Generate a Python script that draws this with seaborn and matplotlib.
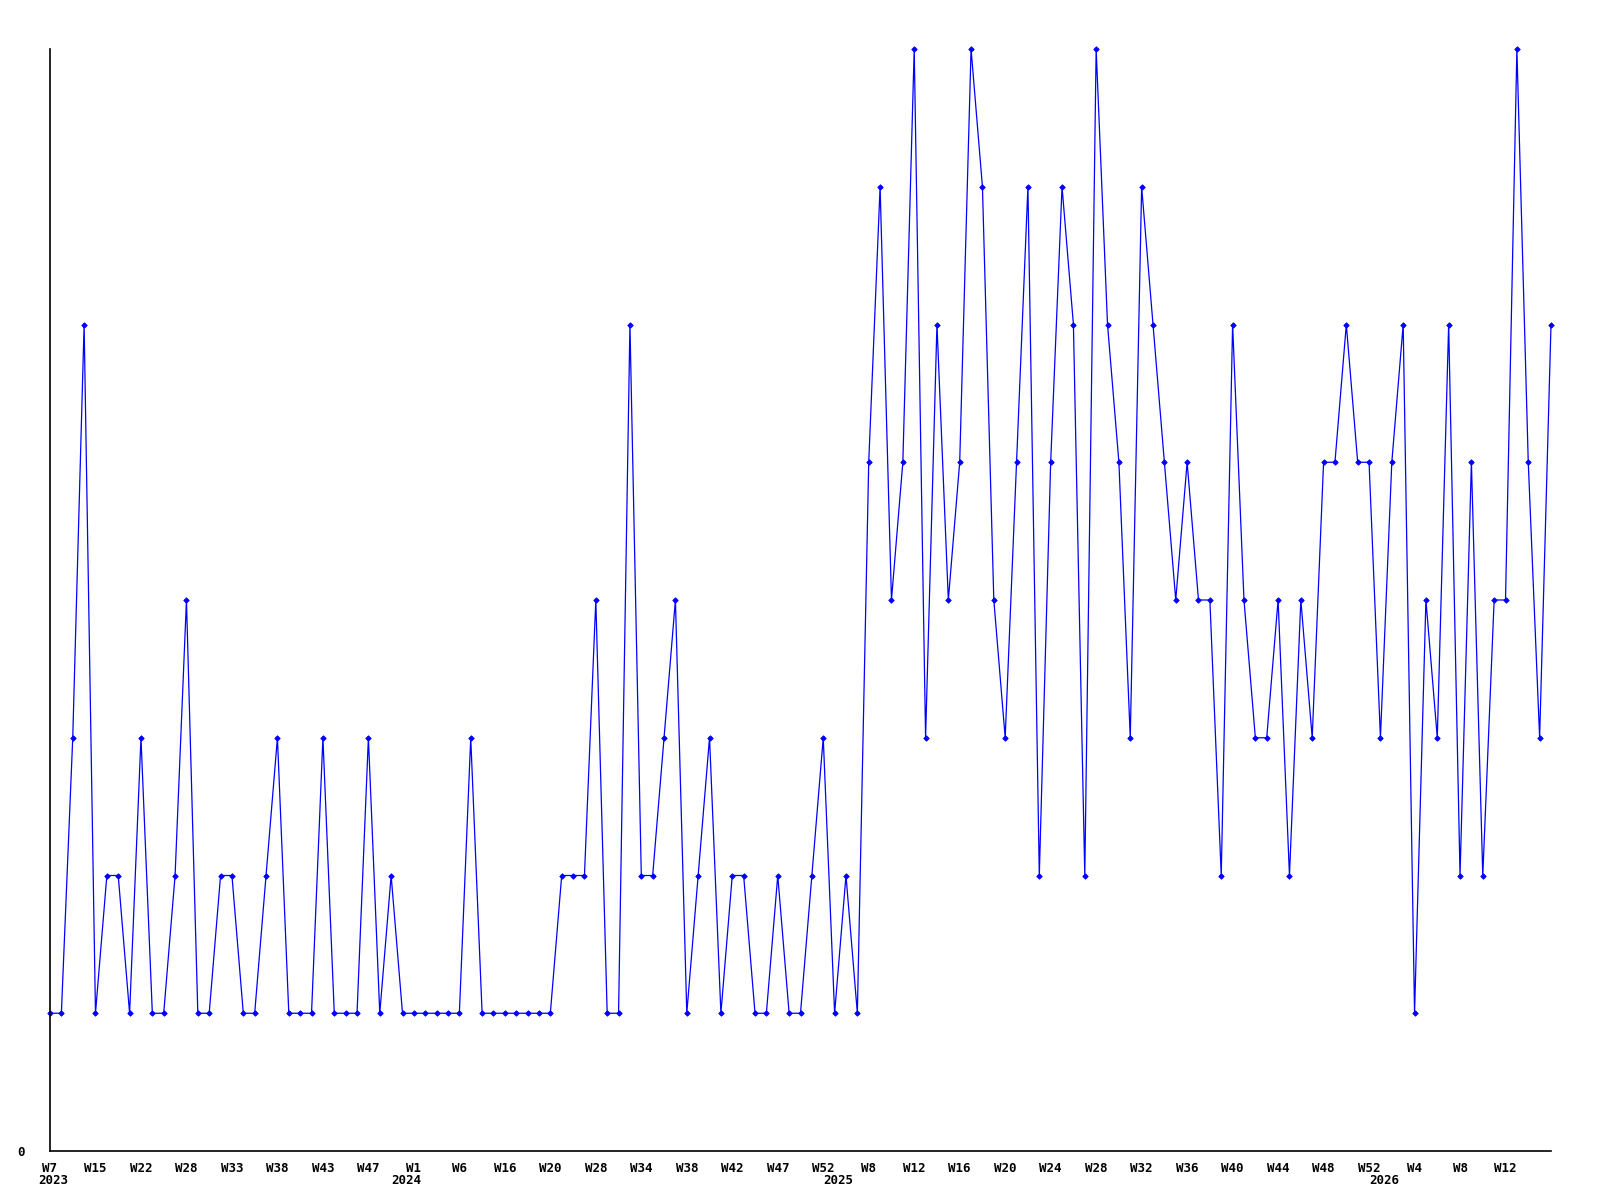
import matplotlib
matplotlib.use("Agg")
import matplotlib.pyplot as plt
import matplotlib.transforms as mtransforms
import seaborn as sns
import pandas as pd

# ---- data ----
values = [1, 1, 3, 6, 1, 2, 2, 1, 3, 1,
          1, 2, 4, 1, 1, 2, 2, 1, 1, 2,
          3, 1, 1, 1, 3, 1, 1, 1, 3, 1,
          2, 1, 1, 1, 1, 1, 1, 3, 1, 1,
          1, 1, 1, 1, 1, 2, 2, 2, 4, 1,
          1, 6, 2, 2, 3, 4, 1, 2, 3, 1,
          2, 2, 1, 1, 2, 1, 1, 2, 3, 1,
          2, 1, 5, 7, 4, 5, 8, 3, 6, 4,
          5, 8, 7, 4, 3, 5, 7, 2, 5, 7,
          6, 2, 8, 6, 5, 3, 7, 6, 5, 4,
          5, 4, 4, 2, 6, 4, 3, 3, 4, 2,
          4, 3, 5, 5, 6, 5, 5, 3, 5, 6,
          1, 4, 3, 6, 2, 5, 2, 4, 4, 8,
          5, 3, 6]
week_labels = ["W7", "W15", "W22", "W28", "W33", "W38", "W43", "W47",
               "W1", "W6", "W16", "W20", "W28", "W34", "W38", "W42",
               "W47", "W52", "W8", "W12", "W16", "W20", "W24", "W28",
               "W32", "W36", "W40", "W44", "W48", "W52", "W4", "W8", "W12"]
year_labels = ["2023", "2024", "2025", "2026"]
year_label_pos = [0.3, 31.3, 69.3, 117.3]

df = pd.DataFrame({"idx": range(len(values)), "value": values})

sns.set_theme(style="white")
plt.rcParams["font.family"] = ["DejaVu Sans Mono"]

fig = plt.figure(figsize=(16, 12), dpi=100)
ax = fig.add_axes([50 / 1600, 1 - 1151 / 1200, 1501 / 1600, 1102 / 1200])

sns.lineplot(data=df, x="idx", y="value", ax=ax, color="#0000ff",
             linewidth=0.9, marker="D", markersize=2.8,
             markeredgewidth=0.6, markeredgecolor="#0000ff", clip_on=False)

ax.set_xlim(0, len(values) - 1)
ax.set_ylim(0, 8)
ax.set_xlabel("")
ax.set_ylabel("")

for s in ["top", "right"]:
    ax.spines[s].set_visible(False)
for s in ["left", "bottom"]:
    ax.spines[s].set_color("black")
    ax.spines[s].set_linewidth(1.2)

ax.set_yticks([0])
ax.set_yticklabels(["0"], fontsize=9, fontweight="bold")
ax.set_xticks(list(range(0, 4 * len(week_labels), 4)))
ax.set_xticklabels(week_labels, fontsize=9, fontweight="bold")
ax.tick_params(axis="both", length=0, colors="black")
ax.tick_params(axis="x", pad=8)
ax.tick_params(axis="y", pad=18)

trans = mtransforms.blended_transform_factory(ax.transData, ax.transAxes)
for lab, pos in zip(year_labels, year_label_pos):
    ax.text(pos, -29 / 1102, lab, transform=trans, ha="center", va="center",
            fontsize=9, fontweight="bold", color="black")

fig.savefig("out.png", dpi=100, facecolor="white")
